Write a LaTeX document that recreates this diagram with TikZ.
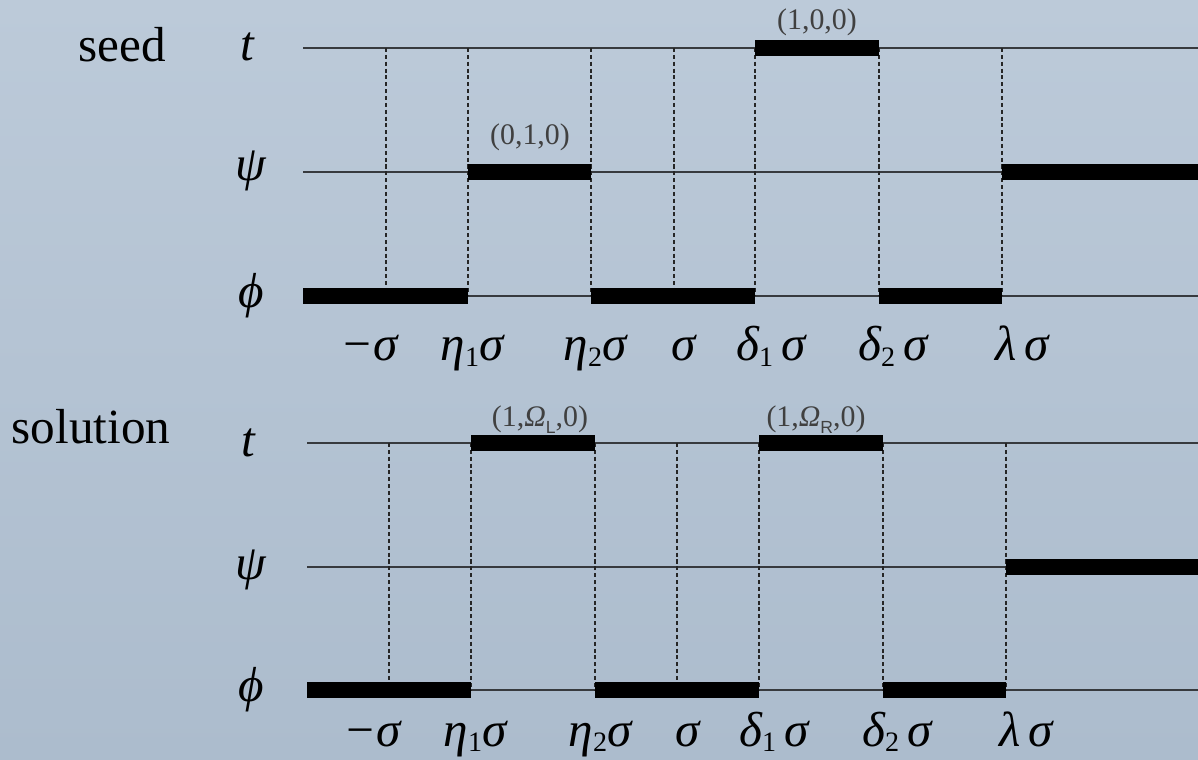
\documentclass[tikz,border=0pt]{standalone}
\usepackage{fontspec}
\setmainfont{Liberation Serif}
\setsansfont{Liberation Sans}
\usetikzlibrary{positioning}
\definecolor{slide_top}{RGB}{188,202,217}
\definecolor{slide_bottom}{RGB}{172,188,205}
\definecolor{trace_gray}{RGB}{55,58,62}
\tikzset{
    trace_line/.style={
        draw=trace_gray,
        line width=0.75pt
    },
    trace_bar/.style={
        draw=black,
        line width=9pt
    },
    trace_cut/.style={
        draw=black!85,
        line width=0.6pt,
        dash pattern=on 2.3pt off 1.6pt
    },
    trace_var/.style={
        font=\fontsize{28}{32}\selectfont\itshape,
        inner sep=0pt,
        anchor=center
    },
    trace_row/.style={
        font=\fontsize{28}{32}\selectfont,
        inner sep=0pt,
        anchor=base
    },
    trace_tick/.style={
        font=\fontsize{28}{32}\selectfont\itshape,
        inner sep=0pt,
        anchor=base
    },
    trace_value/.style={
        font=\fontsize{17}{19}\selectfont,
        text=black!75,
        inner sep=0pt,
        anchor=base
    }
}
\newcommand{\tsub}[1]{\raisebox{-0.12em}{\fontsize{16}{16}\selectfont\upshape #1}}
\newcommand{\omsub}[1]{\textit{Ω}\raisebox{-3.5pt}{\sffamily\fontsize{10}{10}\selectfont #1}}

\begin{document}
\begin{tikzpicture}[x=0.02cm, y=-0.02cm]

% Background
\useasboundingbox (0,0) rectangle (1198,760);
\shade[top color=slide_top, bottom color=slide_bottom] (0,0) rectangle (1198,760);

% Crossing points, seed panel
\foreach \ln/\y in {t/48, psi/172, phi/296}
  \foreach \i/\x in {0/303, 1/386, 2/468, 3/591, 4/674, 5/755, 6/879, 7/1002, 8/1198}
    \coordinate (seed\ln\i) at (\x,\y);

% Crossing points, solution panel
\foreach \ln/\y in {t/443, psi/567, phi/690}
  \foreach \i/\x in {0/307, 1/389, 2/471, 3/595, 4/677, 5/759, 6/883, 7/1006, 8/1198}
    \coordinate (sol\ln\i) at (\x,\y);

% Seed panel
\node[trace_row] (seedRow) at (122,62) {seed};
\node[trace_var] (seedT) at (247,47) {t};
\node[trace_var] (seedPsi) at (251,171) {ψ};
\node[trace_var] (seedPhi) at (251,296) {ϕ};

\draw[trace_line] (seedt0) -- (seedt8);
\draw[trace_line] (seedpsi0) -- (seedpsi8);
\draw[trace_line] (seedphi0) -- (seedphi8);
\foreach \i in {1,...,7}
  \draw[trace_cut] (seedt\i) -- (seedphi\i);

\draw[trace_bar] (seedt5) -- (seedt6);
\draw[trace_bar] (seedpsi2) -- (seedpsi3);
\draw[trace_bar] (seedpsi7) -- (seedpsi8);
\draw[trace_bar] (seedphi0) -- (seedphi2);
\draw[trace_bar] (seedphi3) -- (seedphi5);
\draw[trace_bar] (seedphi6) -- (seedphi7);

\node[trace_value] (seedValT) at (817,30) {(1,0,0)};
\node[trace_value] (seedValPsi) at (530,145) {(0,1,0)};

\node[trace_tick] (seedTickA) at (369,361) {−σ};
\node[trace_tick] (seedTickB) at (472,361) {η\tsub{1}σ};
\node[trace_tick] (seedTickC) at (595,361) {η\tsub{2}σ};
\node[trace_tick] (seedTickD) at (684,361) {σ};
\node[trace_tick] (seedTickE) at (771,361) {δ\tsub{1}\,σ};
\node[trace_tick] (seedTickF) at (893,361) {δ\tsub{2}\,σ};
\node[trace_tick] (seedTickG) at (1022,361) {λ\,σ};

% Solution panel
\node[trace_row] (solRow) at (91,443) {solution};
\node[trace_var] (solT) at (248,443) {t};
\node[trace_var] (solPsi) at (251,570) {ψ};
\node[trace_var] (solPhi) at (251,690) {ϕ};

\draw[trace_line] (solt0) -- (solt8);
\draw[trace_line] (solpsi0) -- (solpsi8);
\draw[trace_line] (solphi0) -- (solphi8);
\foreach \i in {1,...,7}
  \draw[trace_cut] (solt\i) -- (solphi\i);

\draw[trace_bar] (solt2) -- (solt3);
\draw[trace_bar] (solt5) -- (solt6);
\draw[trace_bar] (solpsi7) -- (solpsi8);
\draw[trace_bar] (solphi0) -- (solphi2);
\draw[trace_bar] (solphi3) -- (solphi5);
\draw[trace_bar] (solphi6) -- (solphi7);

\node[trace_value] (solValL) at (540,427) {(1,\omsub{L},0)};
\node[trace_value] (solValR) at (816,427) {(1,\omsub{R},0)};

\node[trace_tick] (solTickA) at (372,746) {−σ};
\node[trace_tick] (solTickB) at (475,746) {η\tsub{1}σ};
\node[trace_tick] (solTickC) at (600,746) {η\tsub{2}σ};
\node[trace_tick] (solTickD) at (688,746) {σ};
\node[trace_tick] (solTickE) at (774,746) {δ\tsub{1}\,σ};
\node[trace_tick] (solTickF) at (897,746) {δ\tsub{2}\,σ};
\node[trace_tick] (solTickG) at (1026,746) {λ\,σ};

\end{tikzpicture}
\end{document}
